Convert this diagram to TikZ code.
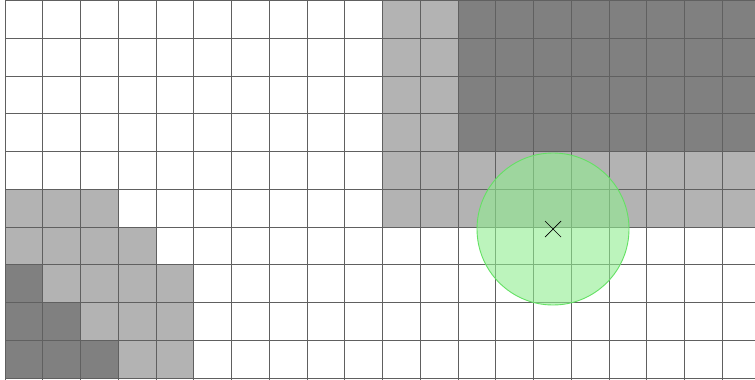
\documentclass[tikz,border=0pt]{standalone}
\usetikzlibrary{calc}
\definecolor{lightcell}{RGB}{179,179,179}
\definecolor{darkcell}{RGB}{128,128,128}
\definecolor{gridline}{RGB}{96,96,96}
\definecolor{zonefill}{RGB}{144,238,144}
\definecolor{zoneedge}{RGB}{100,225,100}
\tikzset{
  cellsize/.store in=\cs, cellsize=37.75,
  lightc/.style={fill=lightcell, draw=none},
  darkc/.style={fill=darkcell, draw=none},
  gridl/.style={draw=gridline, line width=0.9pt},
  zone/.style={fill=zonefill, fill opacity=0.6, draw=zoneedge, line width=0.9pt},
  crossmark/.style={draw=black, line width=0.7pt}
}
\newcommand{\cellat}[3]{% style, col, row
  \path[#1] ({5+37.75*#2},{0.5+37.75*#3}) rectangle ({5+37.75*(#2+1)},{0.5+37.75*(#3+1)});}
\begin{document}
\begin{tikzpicture}[x=1pt,y=-1pt]
\useasboundingbox (0,0) rectangle (755,380);
\fill[white] (0,0) rectangle (755,380);
% top-right region
\foreach \r in {0,...,5}{\foreach \c in {10,11}{\cellat{lightc}{\c}{\r}}}
\foreach \r in {0,...,3}{\foreach \c in {12,...,19}{\cellat{darkc}{\c}{\r}}}
\foreach \r in {4,5}{\foreach \c in {12,...,19}{\cellat{lightc}{\c}{\r}}}
% bottom-left region
\foreach \c in {0,1,2}{\cellat{lightc}{\c}{5}}
\foreach \c in {0,...,3}{\cellat{lightc}{\c}{6}}
\cellat{darkc}{0}{7}
\foreach \c in {1,...,4}{\cellat{lightc}{\c}{7}}
\foreach \c in {0,1}{\cellat{darkc}{\c}{8}}
\foreach \c in {2,3,4}{\cellat{lightc}{\c}{8}}
\foreach \c in {0,1,2}{\cellat{darkc}{\c}{9}}
\foreach \c in {3,4}{\cellat{lightc}{\c}{9}}
% grid
\foreach \i in {0,...,19}{\draw[gridl] ({5+37.75*\i},0) -- ({5+37.75*\i},380);}
\foreach \j in {0,...,10}{\draw[gridl] (5,{0.5+37.75*\j}) -- (755,{0.5+37.75*\j});}
% zone circle and centre mark
\coordinate (ctr) at (553,229);
\path[zone] (ctr) circle[radius=76];
\draw[crossmark] ($(ctr)+(-8,-8)$) -- ($(ctr)+(8,8)$);
\draw[crossmark] ($(ctr)+(-8,8)$) -- ($(ctr)+(8,-8)$);
\end{tikzpicture}
\end{document}
